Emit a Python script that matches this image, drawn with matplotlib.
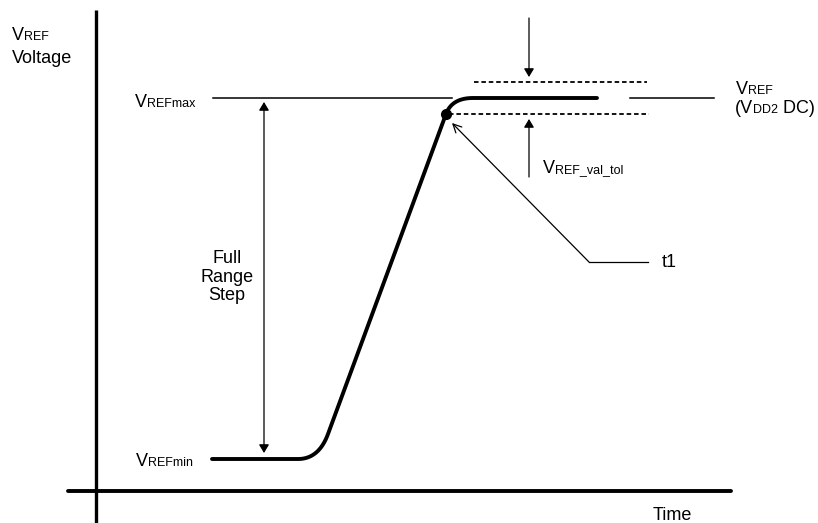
import matplotlib.pyplot as plt
import numpy as np

plt.rcParams['font.family'] = ['Liberation Sans', 'DejaVu Sans']

# diagram key points, in pixels of the 818x523 canvas
vref_max_y = 98
vref_min_y = 459
tol_upper_y = 82
tol_lower_y = 114
t1_point = (446, 114)
flat_low_x = [212, 298]
flat_high_x = [473, 597]
ramp_low = (328, 434)
step_arrow_x = 264
tol_arrow_x = 529
t1_leader_x = [452, 589, 648]
t1_leader_y = [123, 262, 262]

fig = plt.figure(figsize=(8.18, 5.23), dpi=100)
ax = fig.add_axes([0, 0, 1, 1])
ax.set_xlim(0, 818)
ax.set_ylim(523, 0)
ax.axis('off')
renderer = fig.canvas.get_renderer()

# axes
ax.plot([96, 96], [10, 523], color='black', lw=2.4, solid_capstyle='butt')
ax.plot([68, 731], [491, 491], color='black', lw=2.8, solid_capstyle='round')


def quad(p0, c, p1, n=30):
    t = np.linspace(0, 1, n)[:, None]
    p0, c, p1 = map(np.array, (p0, c, p1))
    return (1 - t) ** 2 * p0 + 2 * (1 - t) * t * c + t ** 2 * p1


# ramp waveform
slope = (ramp_low[0] - t1_point[0]) / (ramp_low[1] - t1_point[1])
c_low = (t1_point[0] + slope * (vref_min_y - t1_point[1]), vref_min_y)
c_high = (t1_point[0] + slope * (vref_max_y - t1_point[1]), vref_max_y)
pts = np.vstack([
    [[flat_low_x[0], vref_min_y]],
    quad((flat_low_x[1], vref_min_y), c_low, ramp_low),
    quad(t1_point, c_high, (flat_high_x[0], vref_max_y)),
    [[flat_high_x[1], vref_max_y]],
])
ax.plot(pts[:, 0], pts[:, 1], color='black', lw=2.8, solid_capstyle='round', solid_joinstyle='round')
ax.plot(*t1_point, 'o', color='black', ms=7)

# reference lines
ax.plot([213, 452], [vref_max_y, vref_max_y], color='black', lw=1.1)
ax.plot([630, 714], [vref_max_y, vref_max_y], color='black', lw=1.1)
ax.plot([474, 647], [tol_upper_y, tol_upper_y], color='black', lw=1.3, ls=(0, (2.5, 1.6)))
ax.plot([449, 649], [tol_lower_y, tol_lower_y], color='black', lw=1.3, ls=(0, (2.5, 1.6)))

# arrows
ap = dict(arrowstyle='-|>,head_length=0.5,head_width=0.3', color='black', lw=0.9, shrinkA=0, shrinkB=0)
ax.annotate('', xy=(tol_arrow_x, 77), xytext=(tol_arrow_x, 18), arrowprops=ap)
ax.annotate('', xy=(tol_arrow_x, 119), xytext=(tol_arrow_x, 177), arrowprops=ap)
ax.annotate('', xy=(step_arrow_x, 102), xytext=(step_arrow_x, 453),
            arrowprops=dict(ap, arrowstyle='<|-|>,head_length=0.5,head_width=0.3'))
ax.plot(t1_leader_x[1:], t1_leader_y[1:], color='black', lw=0.9)
ax.annotate('', xy=(t1_leader_x[0], t1_leader_y[0]), xytext=(t1_leader_x[1], t1_leader_y[1]),
            arrowprops=dict(ap, arrowstyle='->,head_length=0.6,head_width=0.3'))

fs = 13
sfs = 9


def sub_label(x, y, big, small):
    t = ax.text(x, y, big, fontsize=fs, va='baseline', ha='left')
    bb = t.get_window_extent(renderer)
    x2 = ax.transData.inverted().transform((bb.x1, 0))[0]
    t2 = ax.text(x2, y, small, fontsize=sfs, va='baseline', ha='left')
    bb2 = t2.get_window_extent(renderer)
    return ax.transData.inverted().transform((bb2.x1, 0))[0]


sub_label(12, 40, 'V', 'REF')
ax.text(12, 63, 'Voltage', fontsize=fs, va='baseline')
sub_label(135, 107, 'V', 'REFmax')
sub_label(136, 466, 'V', 'REFmin')
sub_label(543, 173, 'V', 'REF_val_tol')
sub_label(736, 94, 'V', 'REF')
x2 = sub_label(735, 113, '(V', 'DD2')
ax.text(x2, 113, ' DC)', fontsize=fs, va='baseline')
ax.text(227, 277, 'Full\nRange\nStep', fontsize=fs, ha='center', va='center', linespacing=1.15)
ax.text(662, 267, 't1', fontsize=fs, va='baseline')
ax.text(653, 520, 'Time', fontsize=fs, ha='left', va='baseline')

fig.savefig('out.png', dpi=100)
